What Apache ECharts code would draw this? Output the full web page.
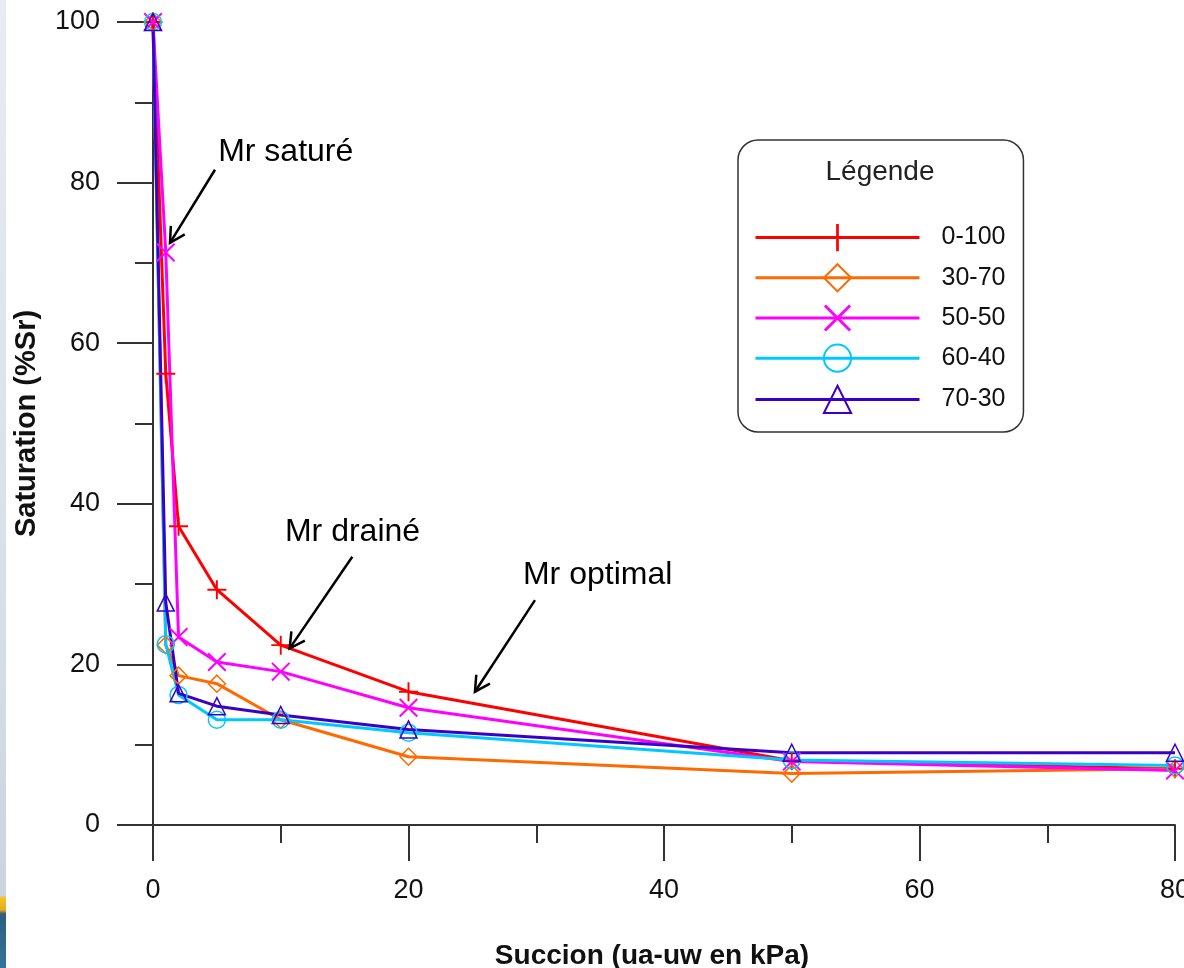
<!DOCTYPE html>
<html>
<head>
<meta charset="utf-8">
<title>Saturation vs succion</title>
<script src="https://cdn.jsdelivr.net/npm/echarts@6/dist/echarts.min.js"></script>
<style>
  html, body { margin: 0; padding: 0; background: #fff; overflow: hidden; }
  #chart { width: 100vw; height: 100vh; }
</style>
</head>
<body>
<div id="chart"></div>
<script>
// succion (kPa)
const succion = [0, 1, 2, 5, 10, 20, 50, 80];
// saturation (%Sr) for each mix
const sr0_100 = [100, 56.2, 37.2, 29.3, 22.4, 16.6, 8.0, 7.0];
const sr30_70 = [100, 22.4, 18.6, 17.6, 13.1, 8.5, 6.4, 7.0];
const sr50_50 = [100, 71.3, 23.4, 20.3, 19.1, 14.6, 7.9, 6.8];
const sr60_40 = [100, 22.5, 16.2, 13.1, 13.1, 11.5, 8.1, 7.4];
const sr70_30 = [100, 27.7, 16.4, 14.8, 13.7, 11.9, 9.0, 9.0];
const seriesNames = ['0-100', '30-70', '50-50', '60-40', '70-30'];
const xTicks = [0, 20, 40, 60, 80];
const yTicks = [0, 20, 40, 60, 80, 100];

// annotations: text anchor, arrow start, arrow tip (data coords)
const notes = [
  { text: 'Mr saturé', at: [5.1, 83.8], from: [4.85, 81.6], to: [1.33, 72.5] },
  { text: 'Mr drainé', at: [10.33, 36.5], from: [15.6, 33.4], to: [10.7, 22.0] },
  { text: 'Mr optimal', at: [28.96, 31.1], from: [29.9, 28.0], to: [25.2, 16.6] }
];

const FONT = 'Liberation Sans, Arial, sans-serif';
const AXIS = '#333';

const plusPath = 'path://M9,0 L11,0 L11,9 L20,9 L20,11 L11,11 L11,20 L9,20 L9,11 L0,11 L0,9 L9,9 Z';
const crossPath = 'path://M0,1.5 L1.5,0 L10,8.5 L18.5,0 L20,1.5 L11.5,10 L20,18.5 L18.5,20 L10,11.5 L1.5,20 L0,18.5 L8.5,10 Z';

function pts(arr) {
  return succion.map((x, i) => [x, arr[i]]);
}

function mkSeries(name, data, color, symbol, size, hollow) {
  return {
    name: name,
    type: 'line',
    data: pts(data),
    symbol: symbol,
    symbolSize: size,
    showAllSymbol: true,
    clip: false,
    lineStyle: { color: color, width: 3 },
    itemStyle: hollow
      ? { color: 'transparent', borderColor: color, borderWidth: 1.5 }
      : { color: color, borderWidth: 0 },
    emphasis: { disabled: true }
  };
}

const chart = echarts.init(document.getElementById('chart'));

const axisCommon = {
  type: 'value',
  nameLocation: 'middle',
  nameTextStyle: { fontFamily: FONT, fontWeight: 'bold', fontSize: 28, color: '#111' },
  axisLine: { show: true, lineStyle: { color: AXIS, width: 2 } },
  axisTick: { show: true, length: 36, lineStyle: { color: AXIS, width: 2 } },
  minorTick: { show: true, splitNumber: 2, length: 18, lineStyle: { color: AXIS, width: 2 } },
  splitLine: { show: false },
  axisLabel: { fontFamily: FONT, fontSize: 27, color: '#111' }
};

const option = {
  animation: false,
  backgroundColor: '#fff',
  grid: { left: 153, right: 9, top: 22, bottom: 143, outerBoundsMode: 'none', containLabel: false },
  xAxis: Object.assign({}, axisCommon, {
    name: 'Succion (ua-uw en kPa)',
    nameGap: 117,
    nameTextStyle: Object.assign({}, axisCommon.nameTextStyle, { padding: [0, 24, 0, 0] }),
    min: xTicks[0],
    max: xTicks[xTicks.length - 1],
    interval: xTicks[1] - xTicks[0],
    axisLabel: Object.assign({}, axisCommon.axisLabel, { margin: 52 })
  }),
  yAxis: Object.assign({}, axisCommon, {
    name: 'Saturation (%Sr)',
    nameGap: 112,
    nameTextStyle: Object.assign({}, axisCommon.nameTextStyle, { fontSize: 29 }),
    min: yTicks[0],
    max: yTicks[yTicks.length - 1],
    interval: yTicks[1] - yTicks[0],
    axisLabel: Object.assign({}, axisCommon.axisLabel, { margin: 53, padding: [4, 0, 0, 0] })
  }),
  legend: {
    data: seriesNames,
    orient: 'vertical',
    left: 738,
    top: 140,
    itemWidth: 164,
    itemHeight: 34,
    itemGap: 12,
    padding: [84, 18, 18, 16],
    borderColor: AXIS,
    borderWidth: 1.5,
    borderRadius: 20,
    backgroundColor: '#fff',
    selectedMode: false,
    lineStyle: { width: 3 },
    textStyle: { fontFamily: FONT, fontSize: 25, color: '#111', padding: [0, 0, 0, 17] }
  },
  series: [
    mkSeries(seriesNames[0], sr0_100, '#ff0000', plusPath, 19, false),
    mkSeries(seriesNames[1], sr30_70, '#ff6a00', 'diamond', 17, true),
    mkSeries(seriesNames[2], sr50_50, '#ff00ff', crossPath, 19, false),
    mkSeries(seriesNames[3], sr60_40, '#00c8ff', 'circle', 17, true),
    mkSeries(seriesNames[4], sr70_30, '#3a00c8', 'triangle', 17, true)
  ]
};

chart.setOption(option);

// annotations and decorations, placed from the axes
function toPx(p) {
  return chart.convertToPixel({ gridIndex: 0 }, p);
}

const graphics = [];

// slide edge strip at far left
graphics.push({
  type: 'rect',
  shape: { x: 0, y: 0, width: 6, height: 968 },
  style: {
    fill: new echarts.graphic.LinearGradient(0, 0, 0, 1, [
      { offset: 0, color: '#e6edf2' },
      { offset: 0.6, color: '#d6e0e8' },
      { offset: 0.925, color: '#c9d6df' },
      { offset: 0.927, color: '#f3c52e' },
      { offset: 0.94, color: '#e6ad1c' },
      { offset: 0.944, color: '#2c5f80' },
      { offset: 1, color: '#35729a' }
    ])
  },
  silent: true
});

// legend title
graphics.push({
  type: 'text',
  x: 880,
  y: 172,
  style: {
    text: 'Légende',
    font: '28px ' + FONT,
    fill: '#222',
    textAlign: 'center',
    textVerticalAlign: 'middle',
    align: 'center',
    verticalAlign: 'middle'
  },
  z: 100
});

notes.forEach(function (n) {
  const at = toPx(n.at);
  const a = toPx(n.from);
  const b = toPx(n.to);
  const ang = Math.atan2(b[1] - a[1], b[0] - a[0]);
  const L = 17, h = 0.5;
  const w1 = [b[0] - L * Math.cos(ang - h), b[1] - L * Math.sin(ang - h)];
  const w2 = [b[0] - L * Math.cos(ang + h), b[1] - L * Math.sin(ang + h)];
  graphics.push({
    type: 'text',
    x: at[0],
    y: at[1],
    style: {
      text: n.text,
      font: '32px ' + FONT,
      fill: '#000',
      textAlign: 'left',
      textVerticalAlign: 'middle',
      align: 'left',
      verticalAlign: 'middle'
    },
    z: 100
  });
  graphics.push({
    type: 'line',
    shape: { x1: a[0], y1: a[1], x2: b[0], y2: b[1] },
    style: { stroke: '#000', lineWidth: 2.5 },
    z: 100
  });
  graphics.push({
    type: 'polyline',
    shape: { points: [w1, b, w2] },
    style: { stroke: '#000', lineWidth: 2.5, fill: null },
    z: 100
  });
});

chart.setOption({ graphic: graphics });

window.addEventListener('resize', function () {
  chart.resize();
});
</script>
</body>
</html>
